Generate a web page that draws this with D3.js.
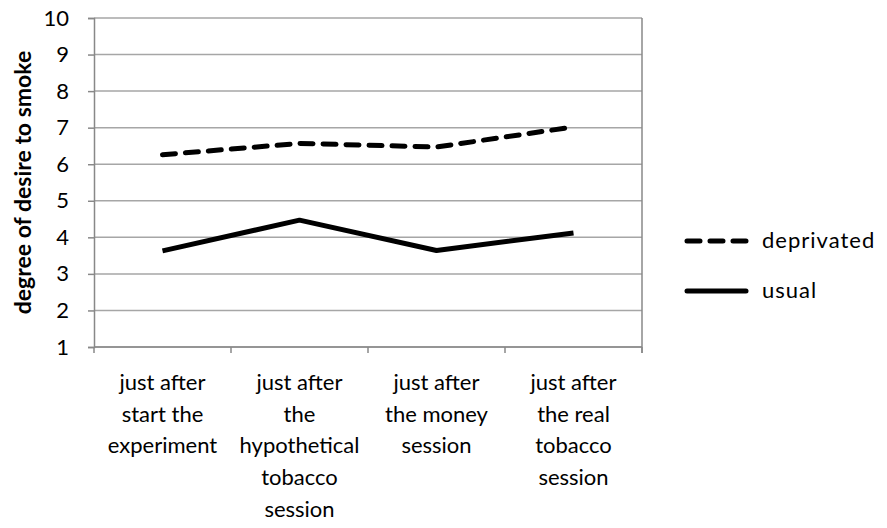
<!DOCTYPE html>
<html>
<head>
<meta charset="utf-8">
<script src="https://cdn.jsdelivr.net/npm/d3@7"></script>
<style>
    body { margin: 0; background: #fff; }
    text { font-family: Lato, "Open Sans", sans-serif; fill: #000; }
</style>
</head>
<body>
<svg id="chart" width="887" height="528"></svg>
<script>
// categories (x-axis labels, split into lines)
const categories = [
    ["just after", "start the", "experiment"],
    ["just after", "the", "hypothetical", "tobacco", "session"],
    ["just after", "the money", "session"],
    ["just after", "the real", "tobacco", "session"]
];

// series values
const deprivated = [6.26, 6.57, 6.47, 7.02];
const usual = [3.63, 4.47, 3.64, 4.12];

const seriesNames = ["deprivated", "usual"];
const yTicks = [1, 2, 3, 4, 5, 6, 7, 8, 9, 10];

const marginLeft = 94;
const marginTop = 18;
const plotWidth = 548;
const plotHeight = 329;

const svg = d3.select("#chart");

const xScale = d3.scaleBand()
    .domain(d3.range(categories.length))
    .range([marginLeft, marginLeft + plotWidth]);

const yScale = d3.scaleLinear()
    .domain([1, 10])
    .range([marginTop + plotHeight, marginTop]);

// horizontal gridlines
svg.append("g")
    .selectAll("line")
    .data(yTicks)
    .join("line")
    .attr("x1", marginLeft)
    .attr("x2", marginLeft + plotWidth)
    .attr("y1", function (d) { return yScale(d); })
    .attr("y2", function (d) { return yScale(d); })
    .style("stroke", "#a6a6a6")
    .style("stroke-width", 1.5);

// right border of plot
svg.append("line")
    .attr("x1", marginLeft + plotWidth)
    .attr("x2", marginLeft + plotWidth)
    .attr("y1", marginTop)
    .attr("y2", marginTop + plotHeight + 6)
    .style("stroke", "#888")
    .style("stroke-width", 1.5);

// y-axis
const yAxis = svg.append("g")
    .attr("transform", `translate(${marginLeft}, 0)`)
    .call(d3.axisLeft(yScale).tickValues(yTicks).tickSize(6).tickPadding(19).tickFormat(d3.format("d")));
yAxis.selectAll("path, line").style("stroke", "#888").style("stroke-width", 1.5);
yAxis.selectAll("text").attr("font-size", "22px").style("font-family", "Lato, sans-serif");

// x-axis with ticks at category boundaries
const xAxisG = svg.append("g")
    .attr("transform", `translate(0, ${marginTop + plotHeight})`);
xAxisG.append("line")
    .attr("x1", marginLeft)
    .attr("x2", marginLeft + plotWidth)
    .style("stroke", "#888")
    .style("stroke-width", 1.5);
xAxisG.selectAll(".tick")
    .data(d3.range(categories.length + 1))
    .join("line")
    .attr("class", "tick")
    .attr("x1", function (d) { return marginLeft + d * xScale.bandwidth(); })
    .attr("x2", function (d) { return marginLeft + d * xScale.bandwidth(); })
    .attr("y1", 0)
    .attr("y2", 6)
    .style("stroke", "#888")
    .style("stroke-width", 1.5);

// category labels
categories.forEach(function (lines, i) {
    const t = svg.append("text")
        .attr("text-anchor", "middle")
        .attr("font-size", "22px");
    lines.forEach(function (s, k) {
        t.append("tspan")
            .attr("x", xScale(i) + xScale.bandwidth() / 2)
            .attr("y", 390 + k * 31.7)
            .text(s);
    });
});

// y-axis title
svg.append("text")
    .attr("transform", `translate(31, ${marginTop + plotHeight / 2}) rotate(-90)`)
    .attr("text-anchor", "middle")
    .attr("font-size", "23px")
    .attr("font-weight", "bold")
    .text("degree of desire to smoke");

// lines
const line = d3.line()
    .x(function (d, i) { return xScale(i) + xScale.bandwidth() / 2; })
    .y(function (d) { return yScale(d); });

svg.append("path")
    .datum(deprivated)
    .attr("d", line)
    .style("fill", "none")
    .style("stroke", "#000")
    .style("stroke-width", 5)
    .style("stroke-linecap", "round")
    .style("stroke-dasharray", "13,10");

svg.append("path")
    .datum(usual)
    .attr("d", line)
    .style("fill", "none")
    .style("stroke", "#000")
    .style("stroke-width", 5)
    .style("stroke-linejoin", "round");

// legend
const legendY = [241, 291];
seriesNames.forEach(function (name, i) {
    svg.append("line")
        .attr("x1", 687)
        .attr("x2", 746)
        .attr("y1", legendY[i])
        .attr("y2", legendY[i])
        .style("stroke", "#000")
        .style("stroke-width", 5)
        .style("stroke-linecap", "round")
        .style("stroke-dasharray", i === 0 ? "13,10" : null);
    svg.append("text")
        .attr("x", 762)
        .attr("y", legendY[i] + 7)
        .attr("font-size", "22px")
        .attr("letter-spacing", "1px")
        .text(name);
});
</script>
</body>
</html>
